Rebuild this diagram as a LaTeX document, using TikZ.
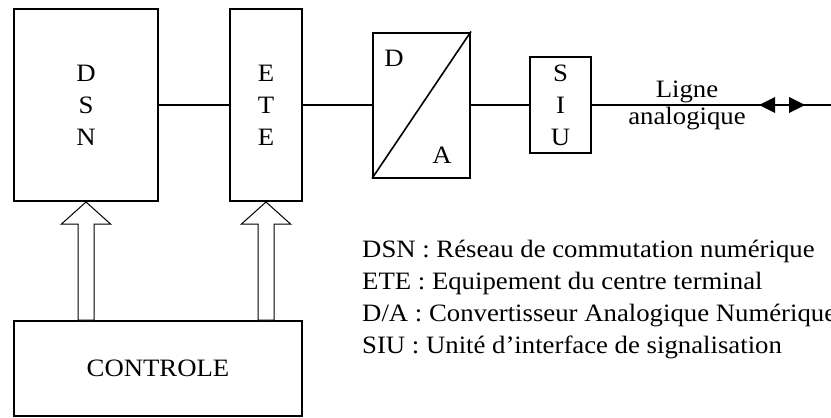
\documentclass[tikz,border=0pt]{standalone}
\usepackage{fontspec}
\setmainfont{Liberation Serif}[FakeStretch=1.07]
\usetikzlibrary{calc}
\begin{document}
\begin{tikzpicture}[x=1pt,y=-1pt,
  txt/.style={font=\fontsize{25}{32}\selectfont},
  blk/.style={draw, line width=2pt, inner sep=0pt, align=center, txt},
  wire/.style={line width=2pt},
  hollow/.style={draw, line width=1pt, fill=white},
  tip/.style={fill=black},
  legend/.style={anchor=base west, inner sep=0pt, txt}]
\useasboundingbox (0,0) rectangle (831,418);
\node[blk, minimum width=144pt, minimum height=192pt] (dsn) at (86,105) {D\\S\\N};
\node[blk, minimum width=72pt, minimum height=192pt] (ete) at (266,105) {E\\T\\E};
\node[blk, minimum width=97pt, minimum height=145pt] (da) at (421.5,105) {};
\node[blk, minimum width=61pt, minimum height=96pt] (siu) at (560.5,105) {S\\I\\U};
\node[blk, minimum width=288pt, minimum height=95pt] (ctrl) at (158,368.5) {CONTROLE};
\draw[line width=1.6pt] (da.south west) -- (da.north east);
\node[txt, inner sep=0pt, anchor=base] (dlab) at (394,66.5) {D};
\node[txt, inner sep=0pt, anchor=base] (alab) at (442,163) {A};
\coordinate (lineend) at (831,105);
\draw[wire] (dsn.east) -- (ete.west);
\draw[wire] (ete.east) -- (da.west);
\draw[wire] (da.east) -- (siu.west);
\draw[wire] (siu.east) -- (lineend);
\fill[tip] (759,105) -- (775,97) -- (775,113) -- cycle;
\fill[tip] (805,105) -- (789,97) -- (789,113) -- cycle;
\node[txt, inner sep=0pt, anchor=base] (ligne) at (687,97) {Ligne};
\node[txt, inner sep=0pt, anchor=base] (analog) at (687,124) {analogique};
% hollow arrows
\foreach \b in {dsn,ete}{
  \draw[hollow] (\b.south) -- ($(\b.south)+(24.5,22)$) -- ($(\b.south)+(8,22)$)
    -- ($(\b.south |- ctrl.north)+(8,0)$) -- ($(\b.south |- ctrl.north)+(-8,0)$)
    -- ($(\b.south)+(-8,22)$) -- ($(\b.south)+(-24.5,22)$) -- cycle;
}
\node[legend] (l1) at (362,257) {DSN : Réseau de commutation numérique};
\node[legend] (l2) at (362,289) {ETE : Equipement du centre terminal};
\node[legend] (l3) at (362,321) {D/A : Convertisseur Analogique Numérique};
\node[legend] (l4) at (362,353) {SIU : Unité d’interface de signalisation};
\end{tikzpicture}
\end{document}
